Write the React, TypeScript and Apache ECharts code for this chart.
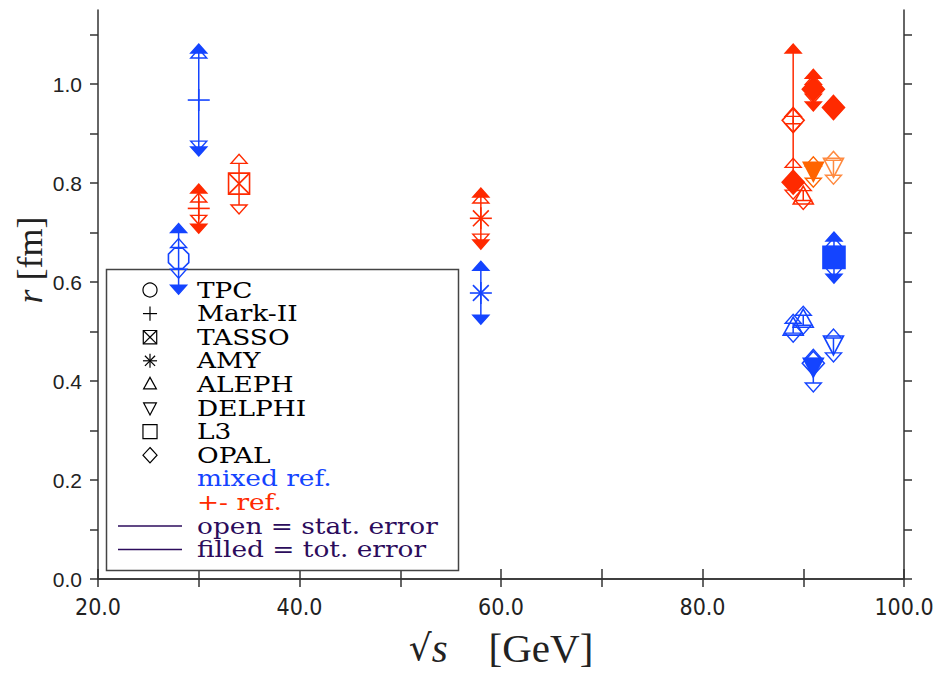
import React, { useEffect, useRef } from "react";
import * as echarts from "echarts";

// ---------- data ----------
const xTickValues = [20, 30, 40, 50, 60, 70, 80, 90, 100];
const xLabelValues = [20, 40, 60, 80, 100];
const yTickValues = [0, 0.1, 0.2, 0.3, 0.4, 0.5, 0.6, 0.7, 0.8, 0.9, 1.0, 1.1];
const yLabelValues = [0, 0.2, 0.4, 0.6, 0.8, 1.0];

const experiments = ["TPC", "Mark-II", "TASSO", "AMY", "ALEPH", "DELPHI", "L3", "OPAL"];

// one entry per measurement
const experiment = ["TPC", "Mark-II", "Mark-II", "TASSO", "AMY", "AMY", "OPAL", "OPAL", "OPAL", "OPAL", "DELPHI", "DELPHI", "ALEPH", "L3", "ALEPH", "ALEPH", "DELPHI", "DELPHI", "OPAL"];
const reference = ["mixed", "mixed", "+-", "+-", "+-", "mixed", "+-", "+-", "+-", "+-", "+-b", "+-c", "+-", "mixed", "mixed", "mixed", "mixed", "mixed", "mixed"];
const totalError = [false, false, false, false, false, false, false, true, true, true, true, false, false, true, false, false, false, true, false];
const sqrtS = [28.0, 30.0, 30.0, 34.0, 58.0, 58.0, 89.0, 89.0, 91.0, 93.0, 91.0, 93.0, 90.0, 93.05, 89.0, 90.0, 93.0, 91.0, 91.0];
const radius = [0.648, 0.968, 0.749, 0.799, 0.729, 0.578, 0.927, 0.802, 0.99, 0.953, 0.826, 0.834, 0.772, 0.65, 0.507, 0.523, 0.475, 0.43, 0.436];
const statLo = [0.626, 0.885, 0.735, 0.756, 0.697, null, 0.92, 0.786, 0.98, 0.948, 0.81, 0.816, 0.765, 0.628, 0.497, 0.513, 0.457, 0.396, null];
const statHi = [0.67, 1.053, 0.762, 0.84, 0.76, null, 0.935, 0.832, 1.0, 0.958, 0.835, 0.846, 0.785, 0.672, 0.517, 0.533, 0.487, 0.446, null];
const totLo = [0.594, 0.873, 0.717, null, 0.685, 0.533, null, null, 0.964, null, null, null, null, 0.616, null, null, null, null, null];
const totHi = [0.70, 1.063, 0.78, null, 0.772, 0.624, null, 1.063, 1.012, null, null, null, null, 0.683, null, null, null, null, null];

// ---------- styles ----------
const refColor: Record<string, string> = {
  mixed: "#1444ff",
  "+-": "#ff2a00",
  "+-b": "#ff6400",
  "+-c": "#ff8a40",
};
const LEGEND_DARK = "#2c0c5c";
const AXIS = "#333333";

function markerEls(exp: string, cx: number, cy: number, k: number, color: string, filled: boolean, lw: number): any[] {
  const fill = filled ? color : "none";
  const st = { stroke: color, fill, lineWidth: lw };
  const ln = (x1: number, y1: number, x2: number, y2: number) => ({
    type: "line",
    shape: { x1, y1, x2, y2 },
    style: { stroke: color, lineWidth: lw },
  });
  switch (exp) {
    case "TPC": {
      const r = 11 * k;
      const pts: number[][] = [];
      for (let j = 0; j < 8; j++) {
        const a = Math.PI / 8 + (j * Math.PI) / 4;
        pts.push([cx + r * Math.cos(a), cy + r * Math.sin(a)]);
      }
      return k < 0.9
        ? [{ type: "circle", shape: { cx, cy, r }, style: st }]
        : [{ type: "polygon", shape: { points: pts }, style: st }];
    }
    case "Mark-II":
      return [ln(cx - 11 * k, cy, cx + 11 * k, cy), ln(cx, cy - 11 * k, cx, cy + 11 * k)];
    case "TASSO": {
      const h = 10.5 * k;
      return [
        { type: "rect", shape: { x: cx - h, y: cy - h, width: 2 * h, height: 2 * h }, style: st },
        ln(cx - h, cy - h, cx + h, cy + h),
        ln(cx - h, cy + h, cx + h, cy - h),
      ];
    }
    case "AMY": {
      const r = 11 * k;
      const d = r * 0.72;
      return [
        ln(cx - r, cy, cx + r, cy),
        ln(cx, cy - r, cx, cy + r),
        ln(cx - d, cy - d, cx + d, cy + d),
        ln(cx - d, cy + d, cx + d, cy - d),
      ];
    }
    case "ALEPH":
      return [{
        type: "polygon",
        shape: { points: [[cx, cy - 11 * k], [cx + 10 * k, cy + 7 * k], [cx - 10 * k, cy + 7 * k]] },
        style: st,
      }];
    case "DELPHI":
      return [{
        type: "polygon",
        shape: { points: [[cx, cy + 11 * k], [cx + 10 * k, cy - 8 * k], [cx - 10 * k, cy - 8 * k]] },
        style: st,
      }];
    case "L3": {
      const h = 11 * k;
      return [{ type: "rect", shape: { x: cx - h, y: cy - h, width: 2 * h, height: 2 * h }, style: st }];
    }
    case "OPAL":
      return [{
        type: "polygon",
        shape: { points: [[cx, cy - 12 * k], [cx + 11 * k, cy], [cx, cy + 12 * k], [cx - 11 * k, cy]] },
        style: st,
      }];
  }
  return [];
}

function arrowEl(cx: number, yBase: number, up: boolean, filled: boolean, color: string) {
  const hw = 8;
  const h = 9;
  const tip = up ? yBase - h : yBase + h;
  return {
    type: "polygon",
    shape: { points: [[cx - hw, yBase], [cx + hw, yBase], [cx, tip]] },
    style: { stroke: color, fill: filled ? color : "none", lineWidth: 1.4 },
  };
}

const renderItem = (params: any, api: any) => {
  const i = api.value(2);
  const x = api.value(0);
  const y = api.value(1);
  const [cx, cy] = api.coord([x, y]);
  const color = refColor[reference[i]];
  const children: any[] = [];
  const py = (v: number) => api.coord([x, v])[1];
  const ends = [statLo[i], statHi[i], totLo[i], totHi[i]].filter((v) => v !== null) as number[];
  if (ends.length) {
    const ys = ends.map(py).concat([cy]);
    children.push({
      type: "line",
      shape: { x1: cx, y1: Math.min(...ys), x2: cx, y2: Math.max(...ys) },
      style: { stroke: color, lineWidth: 1.5 },
    });
  }
  if (totHi[i] !== null) children.push(arrowEl(cx, py(totHi[i] as number), true, true, color));
  if (totLo[i] !== null) children.push(arrowEl(cx, py(totLo[i] as number), false, true, color));
  if (statHi[i] !== null) children.push(arrowEl(cx, py(statHi[i] as number), true, false, color));
  if (statLo[i] !== null) children.push(arrowEl(cx, py(statLo[i] as number), false, false, color));
  children.push(...markerEls(experiment[i], cx, cy, 1, color, totalError[i], 1.6));
  return { type: "group", children };
};

// ---------- legend (graphic) ----------
function legendGraphic(): any[] {
  const els: any[] = [];
  els.push({
    type: "rect",
    shape: { x: 106.5, y: 269.5, width: 352, height: 301 },
    style: { stroke: "#444", fill: "#fff", lineWidth: 1.5 },
    z: 1,
  });
  const rowY = (r: number) => 290 + r * 23.6;
  const font = '"DejaVu Serif", serif';
  const textEl = (t: string, y: number, c: string) => ({
    type: "text",
    x: 197,
    y,
    scaleX: 1.2,
    style: { text: t, fontFamily: font, fontSize: 22, fill: c, verticalAlign: "middle", align: "left" },
    z: 2,
  });
  experiments.forEach((name, r) => {
    markerEls(name, 150, rowY(r), 0.64, "#000", false, 1.2).forEach((e) => els.push({ ...e, z: 2 }));
    els.push(textEl(name, rowY(r), "#000"));
  });
  const extra = [
    { t: "mixed ref.", c: refColor.mixed, line: false },
    { t: "+- ref.", c: refColor["+-"], line: false },
    { t: "open = stat. error", c: LEGEND_DARK, line: true },
    { t: "filled = tot. error", c: LEGEND_DARK, line: true },
  ];
  extra.forEach((e, j) => {
    const y = rowY(8 + j);
    if (e.line) {
      els.push({ type: "line", shape: { x1: 118, y1: y, x2: 182, y2: y }, style: { stroke: e.c, lineWidth: 1.5 }, z: 2 });
    }
    els.push(textEl(e.t, y, e.c));
  });
  // y axis title
  els.push({
    type: "text",
    x: 30,
    y: 260,
    rotation: Math.PI / 2,
    style: {
      text: "{i|r} [fm]",
      fontFamily: '"Liberation Serif", serif',
      fontSize: 36,
      fill: "#222",
      align: "center",
      verticalAlign: "middle",
      rich: { i: { fontStyle: "italic", fontFamily: '"Liberation Serif", serif', fontSize: 36, fill: "#222" } },
    },
  });
  return els;
}

export default function App() {
  const ref = useRef<HTMLDivElement>(null);
  useEffect(() => {
    if (!ref.current) return;
    const chart = echarts.init(ref.current, undefined, { renderer: "svg" });
    const tickFont = '"Liberation Sans Narrow", "DejaVu Sans Condensed", "Liberation Sans", sans-serif';
    const axisBase = {
      axisLine: { show: true, lineStyle: { color: AXIS, width: 1.5 } },
      splitLine: { show: false },
    };
    chart.setOption({
      animation: false,
      backgroundColor: "#ffffff",
      grid: { left: 98, right: 32, top: 10, bottom: 94, containLabel: false, outerBoundsMode: "none" },
      xAxis: [
        {
          ...axisBase,
          type: "value",
          position: "bottom",
          min: 20,
          max: 100,
          axisTick: { show: true, inside: false, length: 8, customValues: xTickValues, lineStyle: { color: AXIS, width: 1.5 } },
          axisLabel: {
            show: true,
            customValues: xLabelValues,
            formatter: (v: number) => v.toFixed(1),
            margin: 16,
            fontSize: 23,
            fontFamily: tickFont,
            color: "#222",
          },
          name: "{r|\u221A}{i|s}    [GeV]",
          nameLocation: "middle",
          nameGap: 48,
          nameTextStyle: {
            fontFamily: '"Liberation Serif", serif',
            fontSize: 41,
            color: "#222",
            rich: {
              r: { fontFamily: '"DejaVu Serif", serif', fontSize: 36, color: "#222" },
              i: { fontStyle: "italic", fontFamily: '"Liberation Serif", serif', fontSize: 41, color: "#222" },
            },
          },
        },
        {
          ...axisBase,
          type: "value",
          position: "top",
          min: 20,
          max: 100,
          axisTick: { show: true, inside: false, length: 10, customValues: xTickValues, lineStyle: { color: AXIS, width: 1.5 } },
          axisLabel: { show: false },
        },
      ],
      yAxis: [
        {
          ...axisBase,
          type: "value",
          position: "left",
          min: 0,
          max: 1.15,
          axisTick: { show: true, inside: false, length: 8, customValues: yTickValues, lineStyle: { color: AXIS, width: 1.5 } },
          axisLabel: {
            show: true,
            customValues: yLabelValues,
            formatter: (v: number) => v.toFixed(1),
            margin: 16,
            fontSize: 21,
            fontFamily: '"Liberation Sans", sans-serif',
            color: "#222",
          },
        },
        {
          ...axisBase,
          type: "value",
          position: "right",
          min: 0,
          max: 1.15,
          axisTick: { show: true, inside: false, length: 8, customValues: yTickValues, lineStyle: { color: AXIS, width: 1.5 } },
          axisLabel: { show: false },
        },
      ],
      series: [
        {
          type: "custom",
          xAxisIndex: 0,
          yAxisIndex: 0,
          renderItem,
          encode: { x: 0, y: 1 },
          data: sqrtS.map((s, i) => [s, radius[i], i]),
          clip: false,
          z: 5,
        },
      ],
      graphic: legendGraphic(),
    });
    return () => chart.dispose();
  }, []);
  return (
    <div
      ref={ref}
      style={{ position: "absolute", left: 0, top: 0, width: 936, height: 673, background: "#fff" }}
    />
  );
}
